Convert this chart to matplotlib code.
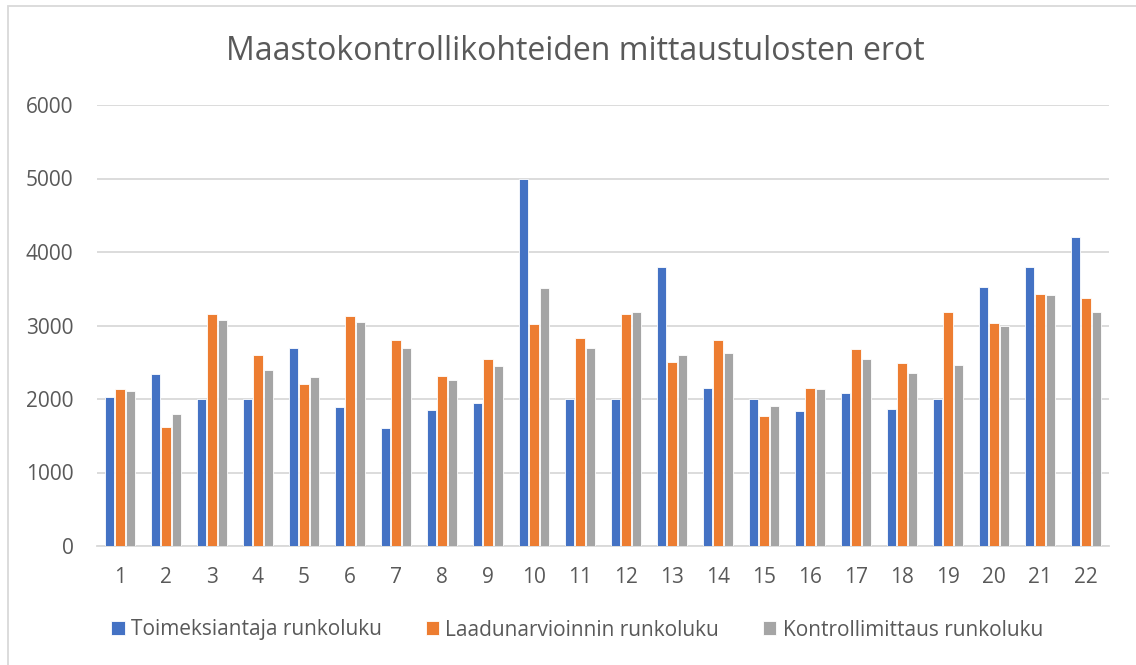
import numpy as np
import matplotlib.pyplot as plt
from matplotlib.patches import Rectangle

plt.rcParams['font.family'] = ['Open Sans', 'DejaVu Sans']

# data
kohteet = [str(i) for i in range(1, 23)]
toimeksiantaja = [2030, 2340, 2000, 2000, 2700, 1890, 1600, 1850, 1950, 5000, 2000,
                  2000, 3800, 2150, 2000, 1840, 2080, 1860, 2000, 3530, 3800, 4200]
laadunarviointi = [2130, 1620, 3150, 2600, 2200, 3130, 2800, 2310, 2550, 3020, 2830,
                   3150, 2510, 2800, 1770, 2150, 2680, 2490, 3190, 3030, 3430, 3370]
kontrolli = [2110, 1790, 3070, 2400, 2300, 3050, 2690, 2260, 2450, 3510, 2690,
             3180, 2600, 2630, 1900, 2130, 2540, 2360, 2460, 3000, 3410, 3190]
sarjat = ['Toimeksiantaja runkoluku', 'Laadunarvioinnin runkoluku', 'Kontrollimittaus runkoluku']
varit = ['#4472C4', '#ED7D31', '#A5A5A5']
yticks = [0, 1000, 2000, 3000, 4000, 5000, 6000]

fig = plt.figure(figsize=(11.36, 6.65), dpi=100)
ax = fig.add_axes([97/1136, 1 - 546/665, (1109-97)/1136, (546-105)/665])

x = np.arange(len(kohteet))
w = 0.205
for i, (vals, nimi, c) in enumerate(zip([toimeksiantaja, laadunarviointi, kontrolli], sarjat, varit)):
    ax.bar(x + (i - 1) * 0.225, vals, w, color=c, edgecolor='white', linewidth=0.6,
           label=nimi, zorder=3)

ax.set_xlim(-0.5, len(kohteet) - 0.5)
ax.set_ylim(0, 6000)
ax.set_yticks(yticks)
ax.set_xticks(x)
ax.set_xticklabels(kohteet)
ax.yaxis.grid(True, color='#D9D9D9', linewidth=1.3, zorder=0)
for s in ['top', 'right', 'left']:
    ax.spines[s].set_visible(False)
ax.spines['bottom'].set_color('#D9D9D9')
ax.spines['bottom'].set_linewidth(1.3)
ax.tick_params(axis='both', length=0, labelsize=15, labelcolor='#595959')
ax.tick_params(axis='x', pad=15)
ax.tick_params(axis='y', pad=17)

fig.text(0.506, 1 - 51/665, 'Maastokontrollikohteiden mittaustulosten erot',
         ha='center', va='center', fontsize=23, color='#595959')

leg = fig.legend(loc='center', bbox_to_anchor=(0.508, 1 - 630/665), ncol=3, frameon=False,
                 fontsize=15, handlelength=0.65, handleheight=0.65, handletextpad=0.3,
                 columnspacing=2.1)
for t in leg.get_texts():
    t.set_color('#595959')

# chart frame
fig.add_artist(Rectangle((8/1136, -0.1), 1.2, 1 - 6/665 + 0.1, transform=fig.transFigure,
                         fill=False, edgecolor='#D9D9D9', linewidth=1.3))

fig.savefig('out.png', dpi=100)
